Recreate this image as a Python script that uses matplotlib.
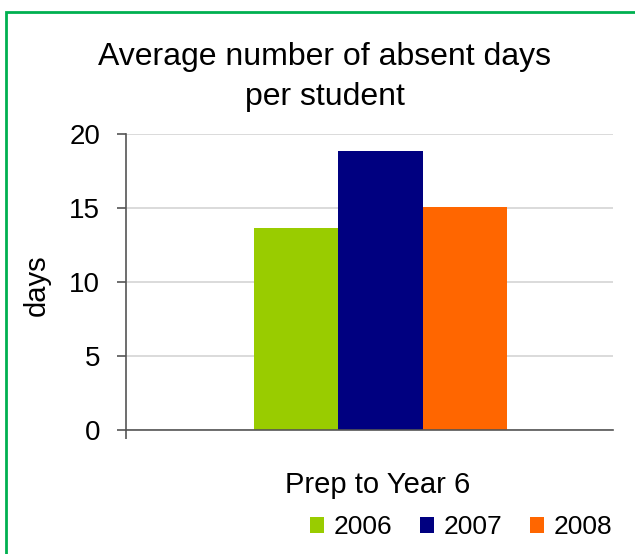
import matplotlib
matplotlib.use("Agg")
import matplotlib.pyplot as plt
from matplotlib.patches import Patch, Rectangle

plt.rcParams["font.family"] = ["Liberation Sans", "DejaVu Sans"]

# data
years = ["2006", "2007", "2008"]
absent_days = [13.65, 18.85, 15.1]
colors = ["#99CC00", "#000080", "#FF6600"]
category = "Prep to Year 6"
yticks = [0, 5, 10, 15, 20]

fig = plt.figure(figsize=(6.35, 5.54), dpi=100)
ax = fig.add_axes([126 / 635, 1 - 430 / 554, 487 / 635, 296 / 554])

for i, (yr, val, col) in enumerate(zip(years, absent_days, colors)):
    ax.bar(i, val, width=1.0, color=col, label=yr, zorder=2)

ax.set_xlim(-2.02, 3.76)
ax.set_ylim(0, 20)
ax.set_yticks(yticks)
ax.set_xticks([-2.02])
ax.set_xticklabels([""])
ax.grid(axis="y", color="#d4d4d4", linewidth=1.2, zorder=0)

for side in ("top", "right"):
    ax.spines[side].set_visible(False)
for side in ("left", "bottom"):
    ax.spines[side].set_color("#555555")
    ax.spines[side].set_linewidth(1.2)
ax.tick_params(axis="y", length=6.5, width=1.2, color="#555555", pad=12, labelsize=20)
ax.tick_params(axis="x", length=6.5, width=1.2, color="#555555")

ax.set_ylabel("days", fontsize=21)
ax.yaxis.set_label_coords(-0.155, 0.49)
ax.set_xlabel(category, fontsize=21)
ax.xaxis.set_label_coords(0.517, -0.138)

fig.text(325 / 635, 1 - 77 / 554, "Average number of absent days\nper student",
         ha="center", va="center", fontsize=23, linespacing=1.45)

handles = [Patch(facecolor=c) for c in colors]
fig.legend(handles, years, loc="center", bbox_to_anchor=(461 / 635, 1 - 527 / 554),
           ncol=3, frameon=False, fontsize=19, handlelength=0.55, handleheight=0.55,
           handletextpad=0.35, columnspacing=1.05)

# green frame around the chart area
fig.patches.append(Rectangle((6 / 635, -0.1), 1.2, 1 - 12 / 554 + 0.1,
                             transform=fig.transFigure, fill=False,
                             edgecolor="#00B050", linewidth=2))

fig.savefig("out.png", dpi=100)
